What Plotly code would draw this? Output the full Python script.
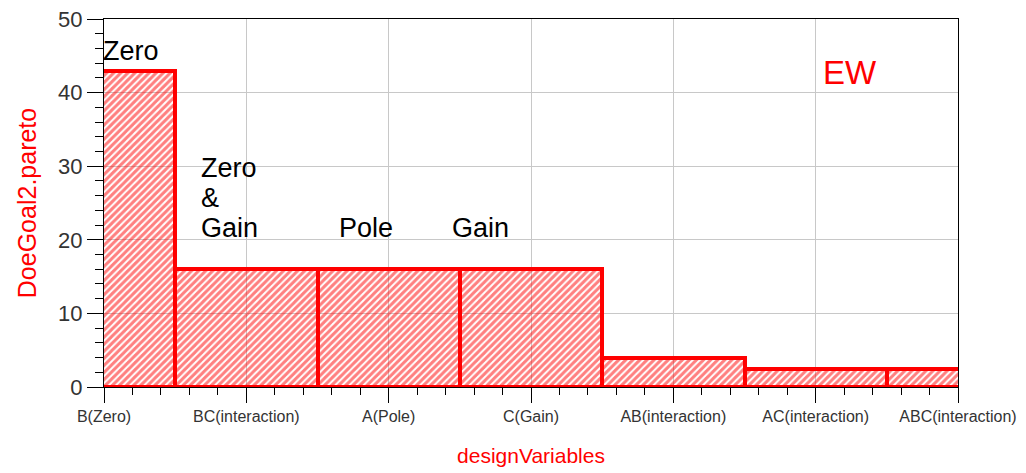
import plotly.graph_objects as go

# Pareto of design-variable effects
categories = ["B(Zero)", "BC(interaction)", "A(Pole)", "C(Gain)",
              "AB(interaction)", "AC(interaction)", "ABC(interaction)"]
pareto = [43.0, 16.1, 16.1, 16.1, 4.0, 2.45, 2.45]

y_ticks = [0, 10, 20, 30, 40, 50]

# effect labels written over the chart: (text, x, y)
effect_labels = [
    ("Zero", 0.0, 45.6),
    ("Zero", 0.69, 29.7),
    ("&", 0.69, 25.7),
    ("Gain", 0.69, 21.6),
    ("Pole", 1.66, 21.6),
    ("Gain", 2.45, 21.6),
]

RED = "#ff0000"
FONT = "Liberation Sans, Arial, sans-serif"

positions = list(range(len(categories)))

fig = go.Figure()
fig.add_trace(go.Bar(
    x=positions,
    y=pareto,
    width=1,
    marker=dict(
        color="rgba(0,0,0,0)",
        line=dict(color=RED, width=4),
        pattern=dict(shape="/", fgcolor=RED, bgcolor="rgba(0,0,0,0)",
                     size=5, solidity=0.6),
    ),
    hoverinfo="x+y",
    showlegend=False,
))

for text, x, y in effect_labels:
    fig.add_annotation(x=x, y=y, text=text, showarrow=False,
                       xanchor="left", yanchor="middle", xshift=-3,
                       font=dict(family=FONT, size=27, color="#000000"))

fig.add_annotation(x=5.06, y=42.7, text="EW", showarrow=False,
                   xanchor="left", yanchor="middle", xshift=-3,
                   font=dict(family=FONT, size=33, color=RED))

fig.update_layout(
    width=1026, height=473,
    margin=dict(l=104, r=68, t=19, b=86),
    paper_bgcolor="white",
    plot_bgcolor="white",
    bargap=0,
    font=dict(family=FONT),
    xaxis=dict(
        range=[0, 6],
        automargin=False,
        tickmode="array",
        tickvals=positions,
        ticktext=categories,
        tickangle=0,
        tickfont=dict(family=FONT, size=16, color="#333333"),
        ticks="outside", ticklen=15, tickcolor="#000000", tickwidth=1,
        minor=dict(dtick=0.2, tick0=0, ticks="outside", ticklen=7,
                   tickcolor="#000000", showgrid=False),
        showgrid=True, gridcolor="#c8c8c8", gridwidth=1,
        showline=True, linecolor="#000000", linewidth=1, mirror=True,
        zeroline=False,
        title=dict(text="designVariables", standoff=24,
                   font=dict(family=FONT, size=21, color=RED)),
    ),
    yaxis=dict(
        range=[0, 50],
        automargin=False,
        tickmode="array",
        tickvals=y_ticks,
        tickfont=dict(family=FONT, size=22, color="#333333"),
        ticks="outside", ticklen=16, tickcolor="#000000", tickwidth=1,
        minor=dict(dtick=2, tick0=0, ticks="outside", ticklen=8,
                   tickcolor="#000000", showgrid=False),
        showgrid=True, gridcolor="#c8c8c8", gridwidth=1,
        showline=True, linecolor="#000000", linewidth=1, mirror=True,
        zeroline=False,
        title=dict(text="DoeGoal2.pareto", standoff=14,
                   font=dict(family=FONT, size=25, color=RED)),
    ),
)

fig.write_html("out.html")
